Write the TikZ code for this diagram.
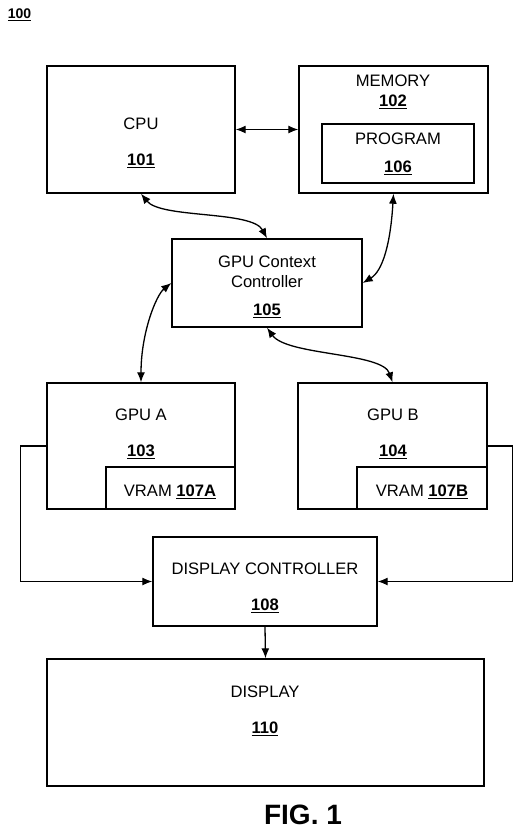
\documentclass[tikz,border=0pt]{standalone}
\usepackage{fontspec}
\setmainfont{Liberation Sans}
\usetikzlibrary{arrows.meta}
\begin{document}
\begin{tikzpicture}[x=1pt,y=-1pt,
  box/.style={draw, line width=1.4pt, inner sep=0pt, anchor=center},
  lbl/.style={inner sep=0pt, anchor=center, font=\fontsize{16.6}{19.5}\selectfont, align=center},
  conn/.style={line width=1.3pt},
  tip/.tip={Latex[length=10pt,width=8pt]},
  biarrow/.style={conn, tip-tip},
  onearrow/.style={conn, -tip}]
\useasboundingbox (0,0) rectangle (518,831);
\newcommand{\refnum}[1]{\underline{\textbf{#1}}}
% boxes
\node[box, minimum width=188pt, minimum height=127pt] (cpu) at (141,129.5) {};
\node[box, minimum width=189pt, minimum height=127pt] (mem) at (393.5,129.5) {};
\node[box, minimum width=152pt, minimum height=59pt] (prog) at (398,153.5) {};
\node[box, minimum width=190pt, minimum height=88pt] (ctx) at (267,283) {};
\node[box, minimum width=188pt, minimum height=126pt] (gpua) at (141,446) {};
\node[box, minimum width=129pt, minimum height=42pt] (vrama) at (170.5,488) {};
\node[box, minimum width=189pt, minimum height=126pt] (gpub) at (392.5,446) {};
\node[box, minimum width=130pt, minimum height=42pt] (vramb) at (422,488) {};
\node[box, minimum width=224pt, minimum height=89pt] (dc) at (265,581.5) {};
\node[box, minimum width=437pt, minimum height=127pt] (disp) at (265.5,722.5) {};
% labels
\node[lbl, font=\fontsize{14}{16}\selectfont] (n100) at (19.5,15) {\refnum{100}};
\node[lbl] (tcpu) at (141,124) {CPU};
\node[lbl] (n101) at (141,161) {\refnum{101}};
\node[lbl] (tmem) at (393,81) {MEMORY};
\node[lbl] (n102) at (393,102) {\refnum{102}};
\node[lbl] (tprog) at (398,139) {PROGRAM};
\node[lbl] (n106) at (398,168) {\refnum{106}};
\node[lbl] (tctx) at (267,272) {GPU Context\\Controller};
\node[lbl] (n105) at (267,311) {\refnum{105}};
\node[lbl] (tgpua) at (141,415) {GPU A};
\node[lbl] (n103) at (141,452) {\refnum{103}};
\node[lbl] (tvrama) at (170,492) {VRAM \refnum{107A}};
\node[lbl] (tgpub) at (393,415) {GPU B};
\node[lbl] (n104) at (393,452) {\refnum{104}};
\node[lbl] (tvramb) at (422,492) {VRAM \refnum{107B}};
\node[lbl] (tdc) at (265,569) {DISPLAY CONTROLLER};
\node[lbl] (n108) at (265,606) {\refnum{108}};
\node[lbl] (tdisp) at (265,692) {DISPLAY};
\node[lbl] (n110) at (265,729) {\refnum{110}};
\node[lbl, font=\fontsize{28}{30}\selectfont\bfseries] (fig) at (303,815) {FIG. 1};
% connectors
\draw[biarrow] (cpu.east) -- (mem.west);
\draw[biarrow] (cpu.south) .. controls +(20,25) and +(-15,-28) .. (ctx.north);
\draw[biarrow] (mem.south) .. controls +(-3,50) and +(20,-12) .. (ctx.east);
\draw[biarrow] (gpua.north) .. controls +(0,-50) and +(-15,12) .. (ctx.west);
\draw[biarrow] (ctx.south) .. controls +(20,28) and +(-10,-30) .. (gpub.north);
\draw[onearrow] (gpua.west) -- ++(-25.5,0) |- (dc.west);
\draw[onearrow] (gpub.east) -- ++(25,0) |- (dc.east);
\draw[onearrow] (dc.south) -- (disp.north);
\end{tikzpicture}
\end{document}
